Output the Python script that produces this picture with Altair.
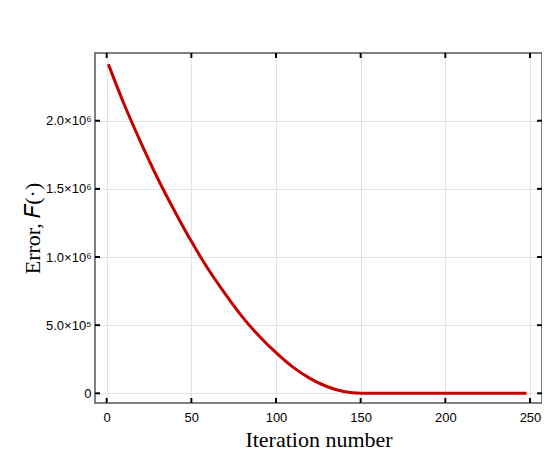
import altair as alt
import pandas as pd

# Data
iterations = [1, 10, 20, 30, 40, 50, 60, 70, 80, 90, 100, 110, 120, 130, 140, 150, 248]
errors = [2.414e6, 2.13e6, 1.845e6, 1.58e6, 1.34e6, 1.115e6, 0.91e6, 0.73e6, 0.563e6,
          0.42e6, 0.298e6, 0.192e6, 0.11e6, 0.05e6, 0.013e6, 0.0, 0.0]

x_ticks = [0, 50, 100, 150, 200, 250]
y_ticks = [0, 500000, 1000000, 1500000, 2000000]
y_tick_labels = ["0", "5.0×10⁵", "1.0×10⁶", "1.5×10⁶", "2.0×10⁶"]

W, H = 447, 350
TICK = 5

df = pd.DataFrame({"iter": iterations, "err": errors})
xt = pd.DataFrame({"iter": x_ticks})
yt = pd.DataFrame({"err": y_ticks})

label_expr = " : ".join(
    [f"datum.value == {v} ? '{l}'" for v, l in zip(y_ticks, y_tick_labels)]
) + " : ''"

xscale = alt.Scale(domain=[-6.9, 257.1], nice=False, zero=False)
yscale = alt.Scale(domain=[-0.071e6, 2.497e6], nice=False, zero=False)

label_font = "Liberation Sans"
title_font = "Liberation Serif"

x_axis = alt.Axis(
    values=x_ticks, title="Iteration number", grid=True, gridColor="#e3e3e3",
    gridWidth=1, ticks=False, domain=False, labelFont=label_font, labelFontSize=13,
    labelColor="black", labelPadding=8, titleFont=title_font, titleFontSize=22,
    titleFontWeight="normal", titleColor="black", titleY=43,
    titleBaseline="alphabetic",
)
y_axis = alt.Axis(
    values=y_ticks, title="Error, 𝐹(·)", grid=True, gridColor="#e3e3e3",
    gridWidth=1, ticks=False, domain=False, labelFont=label_font, labelFontSize=13,
    labelColor="black", labelPadding=4, labelExpr=label_expr,
    titleFont=title_font, titleFontSize=22, titleFontWeight="normal",
    titleColor="black", titleX=-56, titleBaseline="alphabetic",
)

line = alt.Chart(df).mark_line(
    color="#c40000", strokeWidth=3, interpolate="monotone"
).encode(
    x=alt.X("iter:Q", scale=xscale, axis=x_axis),
    y=alt.Y("err:Q", scale=yscale, axis=y_axis),
)

xb = alt.Chart(xt).mark_rule(color="black", strokeWidth=2).encode(
    x=alt.X("iter:Q", scale=xscale, axis=x_axis), y=alt.value(H - TICK), y2=alt.value(H)
)
xtop = alt.Chart(xt).mark_rule(color="black", strokeWidth=2).encode(
    x=alt.X("iter:Q", scale=xscale, axis=x_axis), y=alt.value(0), y2=alt.value(TICK)
)
yl = alt.Chart(yt).mark_rule(color="black", strokeWidth=2).encode(
    y=alt.Y("err:Q", scale=yscale, axis=y_axis), x=alt.value(0), x2=alt.value(TICK)
)
yr = alt.Chart(yt).mark_rule(color="black", strokeWidth=2).encode(
    y=alt.Y("err:Q", scale=yscale, axis=y_axis), x=alt.value(W - TICK), x2=alt.value(W)
)

chart = alt.layer(line, xb, xtop, yl, yr).properties(
    width=W, height=H,
    autosize=alt.AutoSizeParams(type="none"),
    padding={"left": 87, "top": 45, "right": 0, "bottom": 47},
).configure_view(stroke="#555555", strokeWidth=1.5)

chart.save("out.html", embed_options={"renderer": "svg", "actions": False})
